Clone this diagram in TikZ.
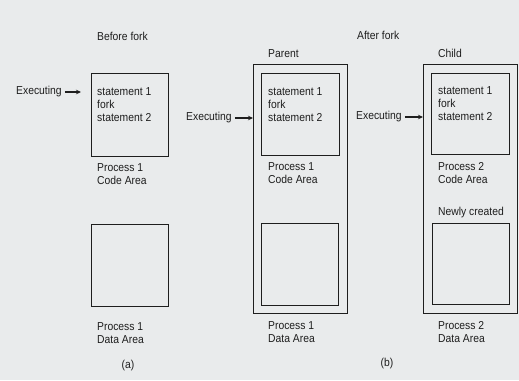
\documentclass[tikz,border=0pt]{standalone}
\usepackage{fontspec}
\setmainfont[FakeStretch=0.9]{Liberation Sans}
\usetikzlibrary{arrows.meta}
\definecolor{bg}{HTML}{E9EBEC}
\definecolor{ink}{HTML}{1E1E1E}
\begin{document}
\begin{tikzpicture}[x=1pt,y=-1pt,
  txt/.style={inner sep=0pt,align=left,text=ink,font=\fontsize{11.5}{13.3}\selectfont},
  box/.style={draw=ink,line width=0.9pt,inner sep=0pt,anchor=north west},
  arr/.style={draw=ink,line width=1.1pt,-{Stealth[length=5pt,width=4.5pt]}}]
\fill[bg] (0,0) rectangle (519,380);
\useasboundingbox (0,0) rectangle (519,380);
% headings
\node[txt,anchor=west] (bf) at (97,36) {Before fork};
\node[txt,anchor=west] (af) at (357,35) {After fork};
\node[txt,anchor=west] (par) at (268,54) {Parent};
\node[txt,anchor=west] (chi) at (438,53) {Child};
\node[txt,anchor=west] (nc) at (438,213) {Newly created};
\node[txt] (la) at (128,366) {(a)};
\node[txt] (lb) at (387,364) {(b)};
% boxes
\node[box,minimum width=77pt,minimum height=83pt] (codeA) at (91,73) {};
\node[box,minimum width=77pt,minimum height=82pt] (dataA) at (91,224) {};
\node[box,minimum width=94pt,minimum height=249pt] (outP) at (253,64) {};
\node[box,minimum width=78pt,minimum height=82pt] (codeP) at (261,73) {};
\node[box,minimum width=77pt,minimum height=82pt] (dataP) at (261,223) {};
\node[box,minimum width=94pt,minimum height=249pt] (outC) at (423,64) {};
\node[box,minimum width=78pt,minimum height=81pt] (codeC) at (431,73) {};
\node[box,minimum width=77pt,minimum height=81pt] (dataC) at (432,223) {};
% statements
\node[txt,anchor=north west] (sA) at (97,87) {statement 1\\fork\\statement 2};
\node[txt,anchor=north west] (sP) at (268,87) {statement 1\\fork\\statement 2};
\node[txt,anchor=north west] (sC) at (438,86) {statement 1\\fork\\statement 2};
% process labels
\node[txt,anchor=north west] (pcA) at (97,163) {Process 1\\Code Area};
\node[txt,anchor=north west] (pdA) at (97,322) {Process 1\\Data Area};
\node[txt,anchor=north west] (pcP) at (268,162) {Process 1\\Code Area};
\node[txt,anchor=north west] (pdP) at (268,321) {Process 1\\Data Area};
\node[txt,anchor=north west] (pcC) at (438,162) {Process 2\\Code Area};
\node[txt,anchor=north west] (pdC) at (438,321) {Process 2\\Data Area};
% executing arrows
\node[txt,anchor=west] (eA) at (16,92) {Executing};
\node[txt,anchor=west] (eP) at (186,118) {Executing};
\node[txt,anchor=west] (eC) at (356,117) {Executing};
\coordinate (tA) at (81,92);
\draw[arr] ([xshift=3pt]eA.east) -- (tA);
\draw[arr] ([xshift=3pt]eP.east) -- (eP.east -| outP.west);
\draw[arr] ([xshift=3pt]eC.east) -- (eC.east -| outC.west);
\end{tikzpicture}
\end{document}
